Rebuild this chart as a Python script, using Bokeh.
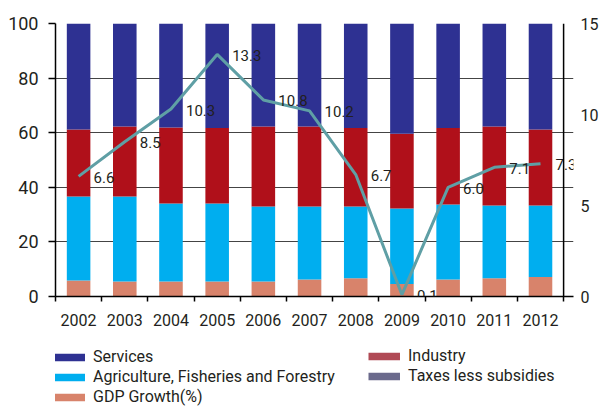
from bokeh.plotting import figure
from bokeh.layouts import column
from bokeh.models import (Range1d, LinearAxis, FixedTicker, Span, Legend, LegendItem,
                          ColumnDataSource, LabelSet)
from bokeh.core.properties import value
from bokeh.embed import file_html
from bokeh.resources import INLINE

years = ["2002", "2003", "2004", "2005", "2006", "2007", "2008", "2009", "2010", "2011", "2012"]
# stacked shares (%), bottom -> top
growth_share = [5.9, 5.5, 5.5, 5.5, 5.5, 6.2, 6.7, 4.6, 6.2, 6.7, 7.1]
agriculture = [30.7, 31.1, 28.6, 28.6, 27.5, 26.8, 26.3, 27.6, 27.5, 26.6, 26.2]
industry = [24.6, 25.7, 27.8, 27.6, 29.3, 29.3, 28.7, 27.4, 28.0, 29.0, 27.9]
services = [38.8, 37.7, 38.1, 38.3, 37.7, 37.7, 38.3, 40.4, 38.3, 37.7, 38.8]
# GDP growth (%), right axis
gdp_growth = [6.6, 8.5, 10.3, 13.3, 10.8, 10.2, 6.7, 0.1, 6.0, 7.1, 7.3]
left_ticks = [0, 20, 40, 60, 80, 100]
right_ticks = [0, 5, 10, 15]
legend_col1 = ["Services", "Agriculture, Fisheries and Forestry", "GDP Growth(%)"]
legend_col2 = ["Industry", "Taxes less subsidies"]

C_SERV = "#2e3192"
C_IND = "#b0101a"
C_IND_LEG = "#b04a55"
C_AGR = "#00aeef"
C_TAX = "#6b6a8c"
C_GDP = "#d8836b"
C_LINE = "#5f9fa5"
TXT = "#231f20"
FONT = "Roboto"

n = len(years)
xc = [i + 0.5 for i in range(n)]

src = ColumnDataSource(dict(x=xc, years=years, growth_share=growth_share,
                            agriculture=agriculture, industry=industry, services=services,
                            gdp=gdp_growth, lbl=[f"{v:.1f}" for v in gdp_growth]))

p = figure(width=601, height=340, x_range=Range1d(0, n + 0.2144), y_range=Range1d(0, 100),
           output_backend="svg", toolbar_location=None,
           min_border_left=55, min_border_right=23, min_border_top=23, min_border_bottom=44)
p.extra_y_ranges = {"gdp": Range1d(0, 15)}
p.outline_line_color = None
p.xgrid.visible = False
p.ygrid.ticker = FixedTicker(ticks=left_ticks)
p.ygrid.grid_line_color = "#444444"
p.ygrid.grid_line_width = 1

p.vbar_stack(["growth_share", "agriculture", "industry", "services"], x="x", width=0.51,
             source=src, color=[C_GDP, C_AGR, C_IND, C_SERV], line_color=None)

p.line("x", "gdp", source=src, y_range_name="gdp", line_color=C_LINE, line_width=3)

labels = LabelSet(x="x", y="gdp", text="lbl", source=src, y_range_name="gdp",
                  x_offset=15, y_offset=-1, text_baseline="middle", text_align="left",
                  text_font=value(FONT), text_font_size="15px", text_color=TXT)
p.add_layout(labels)

# axes
ya = p.yaxis[0]
ya.ticker = FixedTicker(ticks=left_ticks)
ya.major_tick_out = 7
ya.major_tick_in = 0
ya.minor_tick_out = 0
ya.minor_tick_in = 0
ya.axis_line_width = 1.5
ya.axis_line_color = "black"
ya.major_tick_line_width = 1.5
ya.major_label_standoff = 10
ya.major_label_text_font = FONT
ya.major_label_text_font_size = "18px"
ya.major_label_text_color = TXT

xa = p.xaxis[0]
xa.ticker = FixedTicker(ticks=xc, minor_ticks=list(range(n + 1)))
xa.major_label_overrides = {x: y for x, y in zip(xc, years)}
xa.major_tick_out = 0
xa.major_tick_in = 0
xa.minor_tick_out = 5
xa.minor_tick_in = 0
xa.minor_tick_line_color = "black"
xa.minor_tick_line_width = 1.5
xa.axis_line_width = 1.5
xa.axis_line_color = "black"
xa.major_label_standoff = 12
xa.major_label_text_font = FONT
xa.major_label_text_font_size = "16px"
xa.major_label_text_color = TXT

ra = LinearAxis(y_range_name="gdp", ticker=FixedTicker(ticks=right_ticks))
ra.axis_line_color = None
ra.major_tick_out = 0
ra.major_tick_in = 0
ra.minor_tick_out = 0
ra.minor_tick_in = 0
ra.major_label_standoff = 7
ra.major_label_text_font = FONT
ra.major_label_text_font_size = "16px"
ra.major_label_text_color = TXT
p.add_layout(ra, "right")

p.add_layout(Span(location=n, dimension="height", line_color="black", line_width=1.5))

# ---- legend figure below ----
p2 = figure(width=601, height=69, x_range=Range1d(0, 601), y_range=Range1d(0, 69),
            output_backend="svg", toolbar_location=None,
            x_axis_location=None, y_axis_location=None, min_border=0)
p2.outline_line_color = None
p2.xgrid.visible = False
p2.ygrid.visible = False

nan = float("nan")

def swatch(color):
    # invisible renderer that only provides the legend swatch
    return p2.line(x=[nan], y=[nan], line_color=color, line_width=7.5)

r1 = [swatch(c) for c in (C_SERV, C_AGR, C_GDP)]
r2 = [swatch(c) for c in (C_IND_LEG, C_TAX)]

def make_legend(names, rends, loc):
    lg = Legend(items=[LegendItem(label=t, renderers=[r]) for t, r in zip(names, rends)],
                location=loc, orientation="vertical",
                glyph_width=32, glyph_height=20, label_height=20, spacing=0,
                label_standoff=8, padding=0, margin=0,
                border_line_color=None, background_fill_alpha=0,
                label_text_font=FONT, label_text_font_size="16px", label_text_color=TXT)
    p2.add_layout(lg)
    return lg

make_legend(legend_col1, r1, (-2, 2.5))
make_legend(legend_col2, r2, (313, 23.5))

layout = column(p, p2, spacing=0)
open("out.html", "w").write(file_html(layout, INLINE))
